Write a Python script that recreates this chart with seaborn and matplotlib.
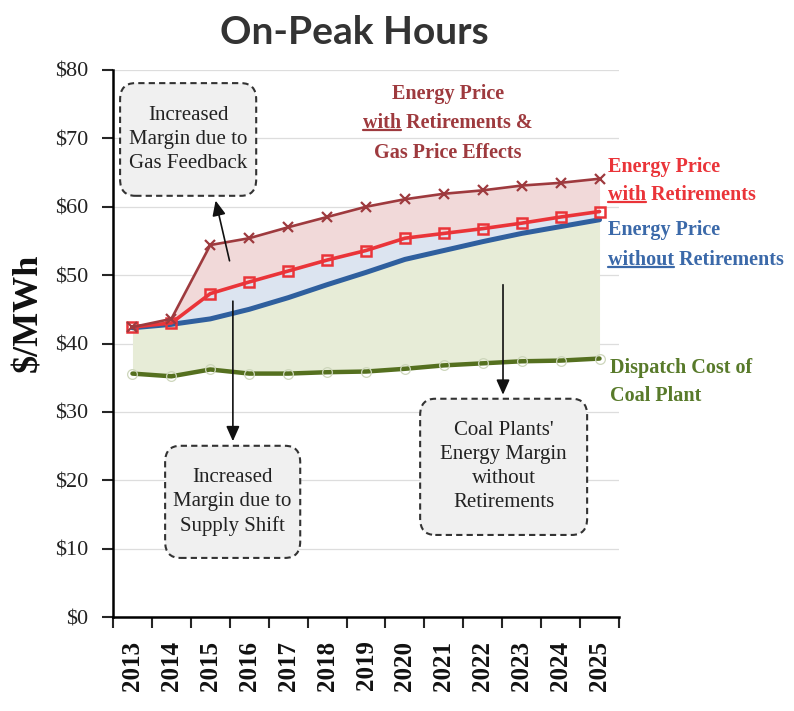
import numpy as np
import pandas as pd
import matplotlib
matplotlib.use("Agg")
import matplotlib.pyplot as plt
import seaborn as sns
from matplotlib.patches import FancyBboxPatch
from matplotlib.lines import Line2D

# ---- data ($/MWh, on-peak) ----
years = ["2013", "2014", "2015", "2016", "2017", "2018", "2019",
         "2020", "2021", "2022", "2023", "2024", "2025"]
dispatch_cost = [35.6, 35.2, 36.2, 35.6, 35.6, 35.8, 35.9, 36.3, 36.8, 37.1, 37.4, 37.5, 37.8]
price_without_ret = [42.3, 42.8, 43.6, 45.0, 46.7, 48.6, 50.4, 52.3, 53.6, 54.9, 56.1, 57.1, 58.1]
price_with_ret = [42.4, 43.0, 47.3, 49.0, 50.6, 52.2, 53.6, 55.4, 56.1, 56.8, 57.6, 58.5, 59.3]
price_with_ret_gas = [42.4, 43.6, 54.4, 55.4, 57.0, 58.5, 60.0, 61.1, 61.9, 62.4, 63.1, 63.5, 64.1]
y_ticks = [0, 10, 20, 30, 40, 50, 60, 70, 80]
y_tick_labels = ["$0", "$10", "$20", "$30", "$40", "$50", "$60", "$70", "$80"]

df = pd.DataFrame({
    "idx": np.arange(len(years)),
    "dispatch": dispatch_cost,
    "without": price_without_ret,
    "with": price_with_ret,
    "with_gas": price_with_ret_gas,
})

sns.set_style("white")
plt.rcParams["font.family"] = ["Liberation Serif", "DejaVu Serif"]

W, H = 794, 711
fig = plt.figure(figsize=(W / 100, H / 100), dpi=100)
ax = fig.add_axes([113 / W, 1 - 617 / H, 506 / W, 547 / H])

C_DARKRED = "#9E3A3E"
C_RED = "#EA3439"
C_BLUE = "#2F5F9E"
C_GREEN = "#55701F"

# shaded margins
ax.fill_between(df["idx"], df["dispatch"], df["without"], color="#E7ECD7", lw=0, zorder=1)
ax.fill_between(df["idx"], df["without"], df["with"], color="#DCE4F0", lw=0, zorder=1)
ax.fill_between(df["idx"], df["with"], df["with_gas"], color="#F1D9D9", lw=0, zorder=1)

# lines
sns.lineplot(data=df, x="idx", y="dispatch", ax=ax, color=C_GREEN, lw=3.2,
             marker="o", markersize=7, markerfacecolor="none",
             markeredgecolor="#CDD6BB", markeredgewidth=0.9, zorder=3)
sns.lineplot(data=df, x="idx", y="without", ax=ax, color=C_BLUE, lw=3.6, zorder=4)
sns.lineplot(data=df, x="idx", y="with", ax=ax, color=C_RED, lw=2.6,
             marker="s", markersize=7, markerfacecolor="none",
             markeredgecolor=C_RED, markeredgewidth=1.8, zorder=5)
sns.lineplot(data=df, x="idx", y="with_gas", ax=ax, color=C_DARKRED, lw=1.9,
             marker="x", markersize=6.5, markeredgecolor=C_DARKRED,
             markeredgewidth=1.6, zorder=5)

# axes styling
ax.set_xlim(-0.5, len(years) - 0.5)
ax.set_ylim(0, 80)
ax.set_yticks(y_ticks)
ax.set_yticklabels(y_tick_labels, fontsize=16, color="#222222")
ax.tick_params(axis="y", direction="out", length=8, width=1.5, pad=10, left=True)
ax.set_xticks(np.arange(len(years)))
ax.set_xticklabels(years, rotation=90, fontsize=18, fontweight="bold", color="#111111")
ax.tick_params(axis="x", which="major", length=0, pad=17)
ax.set_xticks(np.arange(-0.5, len(years)), minor=True)
ax.tick_params(axis="x", which="minor", direction="out", length=8, width=1.5, bottom=True)
ax.grid(axis="y", color="#DDDDDD", lw=0.9, zorder=0)
ax.set_axisbelow(True)
for side in ("top", "right"):
    ax.spines[side].set_visible(False)
for side in ("left", "bottom"):
    ax.spines[side].set_color("black")
    ax.spines[side].set_linewidth(1.8)
ax.set_xlabel("")
ax.set_ylabel("$/MWh", fontsize=26, fontweight="bold", color="#111111")
ax.yaxis.set_label_coords(-0.134, 0.556)

# title
fig.text(354 / W, 1 - 33 / H, "On-Peak Hours", ha="center", va="center",
         fontsize=28, fontweight="bold", color="#333333",
         family=["Lato", "DejaVu Sans"])

# dashed callout boxes (axes fraction)
def callout(x0, x1, y0, y1, text):
    box = FancyBboxPatch((x0, y0), x1 - x0, y1 - y0,
                         boxstyle="round,pad=0,rounding_size=0.03",
                         transform=ax.transAxes, facecolor="#F0F0F0",
                         edgecolor="#333333", lw=1.5, ls=(0, (3, 2)),
                         zorder=6, clip_on=False)
    ax.add_patch(box)
    ax.text((x0 + x1) / 2, (y0 + y1) / 2, text, transform=ax.transAxes,
            ha="center", va="center", fontsize=15, color="#222222",
            linespacing=1.35, zorder=7)

callout(0.014, 0.283, 0.770, 0.976, "Increased\nMargin due to\nGas Feedback")
callout(0.103, 0.370, 0.108, 0.313, "Increased\nMargin due to\nSupply Shift")
callout(0.607, 0.937, 0.150, 0.399, "Coal Plants'\nEnergy Margin\nwithout\nRetirements")

# arrows into the callouts (data coords)
arrow_kw = dict(arrowstyle="-|>,head_length=0.9,head_width=0.4", color="#111111", lw=1.2)
ax.annotate("", xy=(2.12, 61.3), xytext=(2.51, 51.7), arrowprops=arrow_kw, zorder=8)
ax.annotate("", xy=(2.58, 25.3), xytext=(2.58, 46.6), arrowprops=arrow_kw, zorder=8)
ax.annotate("", xy=(9.52, 32.1), xytext=(9.52, 49.0), arrowprops=arrow_kw, zorder=8)

# series labels
fig.canvas.draw()
renderer = fig.canvas.get_renderer()


def label_line(x_px, y_px, text, color, ha="left", underline_word=None):
    t = fig.text(x_px / W, 1 - y_px / H, text, ha=ha, va="center",
                 fontsize=14.5, fontweight="bold", color=color)
    if underline_word:
        bb = t.get_window_extent(renderer)
        probe = fig.text(bb.x0 / W, 1 - y_px / H, underline_word, ha="left",
                         va="center", fontsize=14.5, fontweight="bold")
        pb = probe.get_window_extent(renderer)
        probe.remove()
        yl = pb.y0 + 3
        fig.add_artist(Line2D([pb.x0 / W, pb.x1 / W], [yl / H, yl / H],
                              color=color, lw=1.6))
    return t


label_line(448, 94, "Energy Price", C_DARKRED, ha="center")
label_line(448, 123, "with Retirements &", C_DARKRED, ha="center", underline_word="with")
label_line(448, 153, "Gas Price Effects", C_DARKRED, ha="center")

label_line(608, 167, "Energy Price", C_RED)
label_line(608, 195, "with Retirements", C_RED, underline_word="with")

label_line(608, 230, "Energy Price", "#3B69A9")
label_line(608, 260, "without Retirements", "#3B69A9", underline_word="without")

label_line(610, 368, "Dispatch Cost of", "#587A2A")
label_line(610, 396, "Coal Plant", "#587A2A")

fig.savefig("out.png", dpi=100)
